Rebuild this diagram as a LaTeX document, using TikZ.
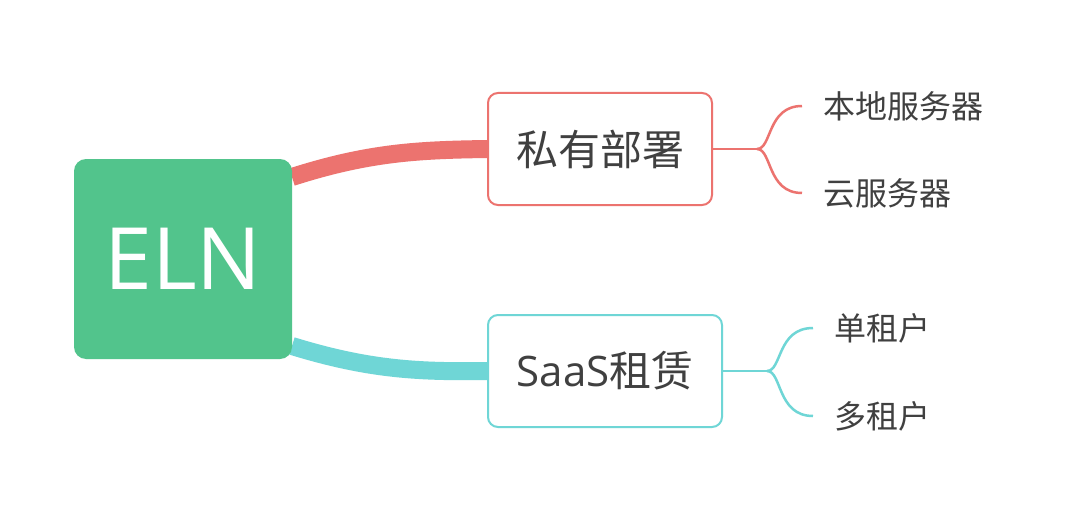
\documentclass[tikz,border=0pt]{standalone}
\usepackage{fontspec}
\usetikzlibrary{backgrounds}
\setmainfont{Noto Sans CJK SC}
\newfontfamily\latinfont{Open Sans}
\definecolor{elngreen}{HTML}{52C48C}
\definecolor{redc}{HTML}{EC736F}
\definecolor{tealc}{HTML}{6FD6D6}
\definecolor{txt}{HTML}{404040}
\begin{document}
\begin{tikzpicture}[x=1pt,y=-1pt,
  topic/.style={draw, line width=2pt, rounded corners=10pt, fill=white, text=txt, font=\fontsize{42}{46}\selectfont, minimum height=112pt, inner sep=0pt},
  leaf/.style={anchor=west, text=txt, font=\fontsize{32}{35}\selectfont, inner xsep=21pt, inner ysep=0pt},
  thick conn/.style={line width=18pt},
  branch/.style={line width=2.5pt}]
\useasboundingbox (0,0) rectangle (1080,519);
\node[fill=elngreen, rounded corners=12pt, minimum width=218pt, minimum height=200pt, text=white, font=\latinfont\fontsize{86}{90}\selectfont, inner sep=0pt] (eln) at (183,259) {ELN};
\node[topic, draw=redc, minimum width=224pt] (priv) at (600,149) {私有部署};
\node[topic, draw=tealc, minimum width=234pt] (saas) at (605,371) {\latinfont SaaS\normalfont 租赁};
\coordinate (a1) at (292,177);
\coordinate (a2) at (292,346);
\begin{scope}[on background layer]
\fill[white] (0,0) rectangle (1080,519);
\draw[thick conn, redc] (a1) .. controls (370,152) and (420,150) .. (priv.west);
\draw[thick conn, tealc] (a2) .. controls (370,370) and (420,372) .. (saas.west);
\end{scope}
% leaves
\node[leaf] (l1) at (802,106) {本地服务器};
\node[leaf] (l2) at (802,193) {云服务器};
\node[leaf] (l3) at (813,328) {单租户};
\node[leaf] (l4) at (813,416) {多租户};
\coordinate (pj) at (757,149);
\coordinate (sj) at (767,371);
\draw[branch, redc] (priv.east) -- (pj);
\draw[branch, redc] (pj) .. controls (772,149) and (767,106) .. (l1.west);
\draw[branch, redc] (pj) .. controls (772,149) and (767,193) .. (l2.west);
\draw[branch, tealc] (saas.east) -- (sj);
\draw[branch, tealc] (sj) .. controls (782,371) and (777,328) .. (l3.west);
\draw[branch, tealc] (sj) .. controls (782,371) and (777,416) .. (l4.west);
\end{tikzpicture}
\end{document}
